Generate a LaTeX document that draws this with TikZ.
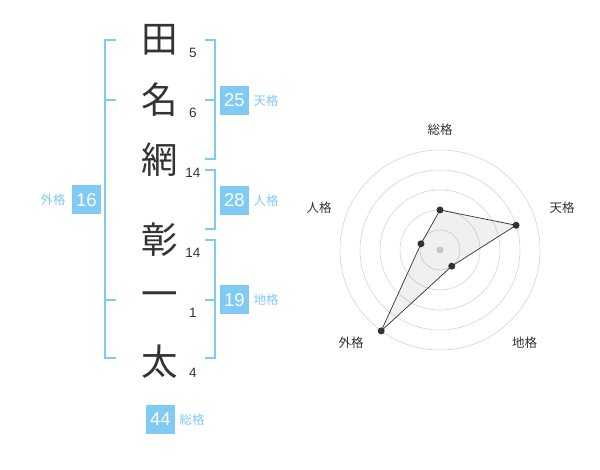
\documentclass[tikz,border=0pt]{standalone}
\usepackage{fontspec}
\setmainfont{Liberation Sans}
\newfontfamily\jpfont{Noto Sans CJK JP}
\usetikzlibrary{calc}
\definecolor{kakublue}{HTML}{80CBF5}
\definecolor{inkgray}{HTML}{333333}
\tikzset{
	kanji/.style={font=\jpfont\fontsize{36.5}{36.5}\selectfont, text=inkgray, inner sep=0pt},
	strokes/.style={font=\fontsize{13.5}{13.5}\selectfont, text=inkgray, inner sep=0pt},
	kakubox/.style={fill=kakublue, text=white, minimum size=29pt, inner sep=0pt, font=\fontsize{18.5}{18.5}\selectfont},
	kakulabel/.style={font=\jpfont\fontsize{12.5}{12.5}\selectfont, text=kakublue, inner sep=0pt},
	bracket/.style={draw=kakublue, line width=2pt},
	ring/.style={draw=black!18, line width=0.55pt},
	axislabel/.style={font=\jpfont\fontsize{12.5}{12.5}\selectfont, text=inkgray, inner sep=0pt},
	datapoint/.style={circle, fill=inkgray, inner sep=0pt, minimum size=7pt},
}

\begin{document}
\begin{tikzpicture}[x=1pt, y=-1pt]
			%%%%% START %%%%%
			\useasboundingbox (0,0) rectangle (600,470);
			
			% name, one kanji per line
			\node[kanji] (c1) at (160,40) {田};
			\node[kanji] (c2) at (160,100) {名};
			\node[kanji] (c3) at (160,160) {網};
			\node[kanji] (c4) at (160,240) {彰};
			\node[kanji] (c5) at (160,300) {一};
			\node[kanji] (c6) at (160,362) {太};
			
			\node[strokes] (s1) at (193,53) {5};
			\node[strokes] (s2) at (193,113) {6};
			\node[strokes] (s3) at (193,173) {14};
			\node[strokes] (s4) at (193,253) {14};
			\node[strokes] (s5) at (193,313) {1};
			\node[strokes] (s6) at (193,373) {4};
			
			% brackets
			\coordinate (gai-top) at (116,40);
			\coordinate (gai-bot) at (116,358);
			\coordinate (gai-m1) at (116,100);
			\coordinate (gai-m2) at (116,300);
			\draw[bracket] (gai-top) -- ++(-11,0) |- (gai-bot);
			\draw[bracket] (gai-m1) -- ++(-11,0);
			\draw[bracket] (gai-m2) -- ++(-11,0);
			
			\coordinate (ten-top) at (205,40);
			\coordinate (ten-mid) at (205,100);
			\coordinate (ten-bot) at (205,159);
			\draw[bracket] (ten-top) -- ++(9.5,0) |- (ten-bot);
			\draw[bracket] (ten-mid) -- ++(9.5,0);
			
			\coordinate (jin-top) at (205,170);
			\coordinate (jin-bot) at (205,229);
			\draw[bracket] (jin-top) -- ++(9.5,0) |- (jin-bot);
			
			\coordinate (chi-top) at (205,240);
			\coordinate (chi-mid) at (205,300);
			\coordinate (chi-bot) at (205,358);
			\draw[bracket] (chi-top) -- ++(9.5,0) |- (chi-bot);
			\draw[bracket] (chi-mid) -- ++(9.5,0);
			
			% totals
			\node[kakubox] (gai) at (86.5,200) {16};
			\node[kakulabel] (gai-l) at (53,200) {外格};
			\node[kakubox] (ten) at (234.5,100.5) {25};
			\node[kakulabel] (ten-l) at (266,100.5) {天格};
			\node[kakubox] (jin) at (234.5,200.5) {28};
			\node[kakulabel] (jin-l) at (266,200.5) {人格};
			\node[kakubox] (chi) at (234.5,300) {19};
			\node[kakulabel] (chi-l) at (266,300) {地格};
			\node[kakubox] (sou) at (160.5,419) {44};
			\node[kakulabel] (sou-l) at (192,420) {総格};
			
			% radar
			\coordinate (hub) at (440,250);
			\foreach \r in {20,40,...,100}
				\draw[ring] (hub) circle (\r);
			\begin{scope}[shift={(hub)}, y=1pt]
				\coordinate (p-sou) at (90:40);
				\coordinate (p-ten) at (18:80);
				\coordinate (p-chi) at (-54:20);
				\coordinate (p-gai) at (-126:100);
				\coordinate (p-jin) at (162:20);
			\end{scope}
			\draw[fill=black, fill opacity=0.06, draw=inkgray, draw opacity=1, line width=0.7pt]
				(p-sou) -- (p-ten) -- (p-chi) -- (p-gai) -- (p-jin) -- cycle;
			\fill[black!22] (hub) circle (3.5);
			\foreach \p in {sou,ten,chi,gai,jin}
				\node[datapoint] (dot-\p) at (p-\p) {};
			
			\node[axislabel] (ax-sou) at (440,130) {総格};
			\node[axislabel] (ax-ten) at (562,208) {天格};
			\node[axislabel] (ax-jin) at (319,208) {人格};
			\node[axislabel] (ax-gai) at (351,342.5) {外格};
			\node[axislabel] (ax-chi) at (524.5,342.5) {地格};
			%%%%% END %%%%%
\end{tikzpicture}
\end{document}
